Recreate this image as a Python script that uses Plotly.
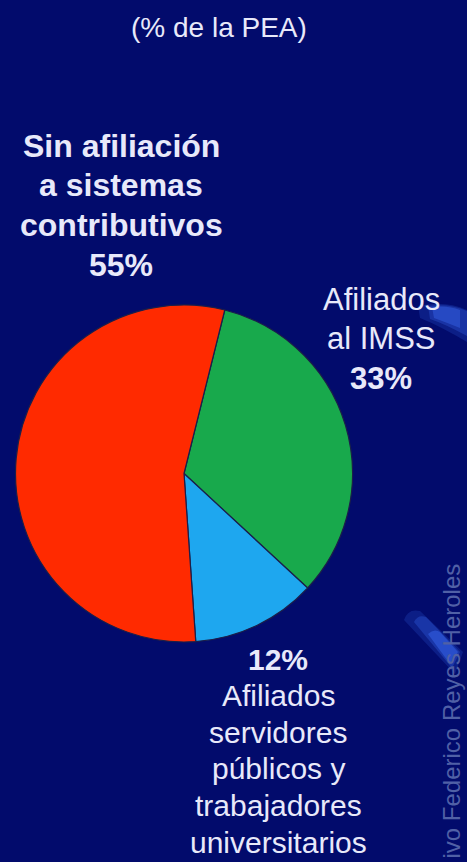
import plotly.graph_objects as go

W, H = 467, 862

# ---- data ----
categories = ["Afiliados al IMSS",
              "Afiliados servidores públicos y trabajadores universitarios",
              "Sin afiliación a sistemas contributivos"]
values = [33, 12, 55]
colors = ["#18A94C", "#1EA7EF", "#FF2A00"]

subtitle = "(% de la PEA)"
label_sin = ["<b>Sin afiliación</b>", "<b>a sistemas</b>", "<b>contributivos</b>", "<b>55%</b>"]
label_imss = ["Afiliados", "al IMSS", "<b>33%</b>"]
label_serv = ["<b>12%</b>", "Afiliados", "servidores", "públicos y", "trabajadores", "universitarios"]
watermark = "ivo Federico Reyes Heroles"

BG = "#020B6C"
TXT = "#E8E9FA"
FONT = "Liberation Sans, Arial, sans-serif"


def px(x):
    return x / W


def py(y):
    return 1 - y / H


fig = go.Figure()
fig.add_trace(go.Pie(
    labels=categories, values=values, sort=False, direction="clockwise",
    rotation=14, textinfo="none", hoverinfo="skip", showlegend=False,
    marker=dict(colors=colors, line=dict(color="#1B1F4A", width=1.2)),
    domain=dict(x=[px(14), px(354)], y=[py(642), py(305)]),
))

ann = []


def add_lines(lines, xc, y0, dy, size):
    for i, t in enumerate(lines):
        ann.append(dict(text=t, x=px(xc), y=py(y0 + i * dy), xref="paper", yref="paper",
                        xanchor="center", yanchor="middle", showarrow=False,
                        font=dict(family=FONT, size=size, color=TXT)))


add_lines([subtitle], 219, 28, 0, 28)
add_lines(label_sin, 121, 146, 39.5, 32)
add_lines(label_imss, 381, 300, 39, 31)
add_lines(label_serv, 278, 659, 36.6, 30)

ann.append(dict(text=watermark, x=px(451), y=py(861), xref="paper", yref="paper",
                xanchor="center", yanchor="bottom", textangle=-90, showarrow=False,
                font=dict(family=FONT, size=24, color="#5060A6")))

# decorative streaks
shapes = []
streak1 = [(0.18, "M 418 306 Q 445 300 467 310 L 467 342 Q 440 326 420 318 Z"),
           (0.25, "M 428 306 Q 450 303 467 311 L 467 336 Q 445 324 430 319 Z"),
           (0.35, "M 432 307 Q 448 305 460 310 L 460 328 Q 445 322 434 318 Z")]
streak2 = [(0.18, "M 404 620 Q 408 608 420 611 L 463 652 L 455 674 Z"),
           (0.28, "M 414 622 Q 418 614 426 617 L 460 652 L 452 668 Z"),
           (0.4, "M 428 634 Q 434 628 440 632 L 458 652 L 450 664 Z")]
for op, path in streak1 + streak2:
    shapes.append(dict(type="path", path=path, xref="x", yref="y",
                       fillcolor="#3E72FF", opacity=op, line=dict(width=0), layer="below"))

fig.update_layout(
    width=W, height=H, margin=dict(l=0, r=0, t=0, b=0),
    paper_bgcolor=BG, plot_bgcolor=BG,
    annotations=ann, shapes=shapes,
    xaxis=dict(range=[0, W], visible=False, fixedrange=True, domain=[0, 1]),
    yaxis=dict(range=[H, 0], visible=False, fixedrange=True, domain=[0, 1]),
)

fig.write_html("out.html", config={"displayModeBar": False},
               post_script="document.body.style.margin='0';document.body.style.overflow='hidden';")
